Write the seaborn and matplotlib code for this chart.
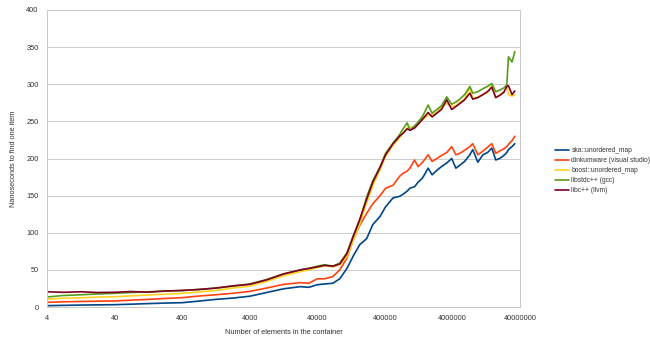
import matplotlib
matplotlib.use("Agg")
import matplotlib.pyplot as plt
import matplotlib.ticker as mticker
import seaborn as sns
import pandas as pd

elements = [4, 7, 13, 22, 40, 71, 126, 225, 400, 711, 1265, 2249, 4000, 7113,
            12649, 22494, 30000, 40000, 51500, 68000, 86000, 110000, 135000,
            170000, 215000, 265000, 340000, 410000, 530000, 660000, 745000,
            855000, 940000, 1100000, 1240000, 1450000, 1750000, 2000000,
            2350000, 2750000, 3300000, 3900000, 4500000, 5150000, 6050000,
            7250000, 8000000, 9500000, 11300000, 13200000, 15300000, 17500000,
            20000000, 23000000, 25500000, 27000000, 30500000, 33500000]

ska = [1.8, 2.2, 2.6, 2.9, 3.1, 3.8, 4.6, 5.3, 5.8, 8, 10.3, 12, 14.5, 19.5,
       24.5, 27.4, 26.5, 30, 31, 32, 38, 52, 68, 84, 92, 111, 122, 135, 147, 149,
       152, 156, 160, 162, 168, 174, 187, 178, 184, 189, 194, 200, 187, 191, 196,
       205, 212, 195, 205, 208, 214, 198, 200, 204, 208, 212, 216, 220]

dinkumware = [6.3, 7, 7.5, 7.8, 8.1, 9.2, 10.3, 11.5, 12.6, 14.8, 16.5, 18.5,
              21, 25.5, 30.5, 32.8, 32, 38, 38, 41, 50, 66, 90, 110, 126, 139,
              150, 160, 164, 176, 180, 183, 187, 198, 189, 195, 205, 196, 200,
              204, 208, 216, 205, 207, 211, 216, 220, 205, 210, 215, 220, 207,
              210, 213, 216, 219, 224, 230]

boost = [10.8, 11.7, 12.5, 13.2, 13.9, 15, 16.2, 17.3, 18.4, 20.2, 22.3, 25.5,
         28, 34.5, 42, 47.6, 50, 53, 56, 54, 57, 68, 89, 112, 140, 163, 185,
         203, 218, 228, 235, 241, 243, 241, 247, 253, 258, 259, 262, 270, 274,
         270, 271, 276, 280, 296, 280, 283, 286, 289, 298, 282, 285, 290, 298,
         286, 284, 286]

libstdcpp = [13.5, 15.5, 16.5, 17.5, 18.4, 19.5, 20.5, 21.5, 22, 23.8, 25.5,
             28, 31, 37, 44.5, 50, 52, 55, 57, 55, 59, 73, 95, 117, 148, 170,
             189, 207, 221, 232, 240, 248, 238, 244, 249, 257, 272, 261, 266,
             271, 283, 273, 276, 280, 286, 297, 288, 290, 294, 297, 301, 290,
             292, 295, 299, 337, 330, 344]

libcpp = [20.5, 19.8, 20.5, 19.5, 19.8, 20.8, 20, 21.5, 22.4, 23.5, 25.5, 28.5,
          30.5, 36.5, 44.5, 50, 52, 54, 56, 55, 58, 72, 94, 118, 145, 168, 188,
          205, 220, 230, 234, 240, 238, 241, 246, 253, 262, 256, 261, 266, 279,
          266, 270, 274, 279, 288, 280, 282, 286, 290, 296, 282, 285, 289, 297,
          298, 286, 291]

series_names = ["ska::unordered_map", "dinkumware (visual studio)",
                "boost::unordered_map", "libstdc++ (gcc)", "libc++ (llvm)"]
colors = ["#004586", "#ff420e", "#ffd320", "#579d1c", "#7e0021"]
tick_values = [4, 40, 400, 4000, 40000, 400000, 4000000, 40000000]
tick_labels = ["4", "40", "400", "4000", "40000", "400000", "4000000", "40000000"]

frames = []
for name, vals in zip(series_names, [ska, dinkumware, boost, libstdcpp, libcpp]):
    frames.append(pd.DataFrame({"elements": elements, "ns": vals, "series": name}))
df = pd.concat(frames, ignore_index=True)

sns.set_style("white")
plt.rcParams["font.family"] = ["Liberation Sans", "DejaVu Sans"]

fig = plt.figure(figsize=(6.5, 3.45), dpi=100)
ax = fig.add_axes([47 / 650, 1 - 307 / 345, (520 - 47) / 650, (307 - 10) / 345])

sns.lineplot(data=df, x="elements", y="ns", hue="series", hue_order=series_names,
             palette=colors, linewidth=1.2, ax=ax, legend=True, sort=False)

ax.set_xscale("log")
ax.set_xlim(4, 40000000)
ax.set_ylim(0, 400)
ax.xaxis.set_major_locator(mticker.FixedLocator(tick_values))
ax.xaxis.set_major_formatter(mticker.FixedFormatter(tick_labels))
ax.xaxis.set_minor_locator(mticker.NullLocator())
ax.set_yticks(range(0, 401, 50))
ax.yaxis.grid(True, color="#cccccc", linewidth=0.7)
ax.set_axisbelow(True)
for sp in ax.spines.values():
    sp.set_color("#c8c8c8")
    sp.set_linewidth(0.7)
ax.tick_params(axis="both", labelsize=5.3, colors="#333333", length=3,
               width=0.6, color="#c8c8c8", pad=3)
ax.set_xlabel("Number of elements in the container", fontsize=5.3,
              color="#333333", labelpad=5)
ax.set_ylabel("Nanoseconds to find one item", fontsize=5.3, color="#333333",
              labelpad=7)

handles, labels = ax.get_legend_handles_labels()
ax.get_legend().remove()
fig.legend(handles, labels, loc="center left", bbox_to_anchor=(554 / 650, 1 - 171 / 345),
           frameon=False, fontsize=4.8, handlelength=2.0, handletextpad=0.4,
           labelspacing=0.45, labelcolor="#333333", borderaxespad=0, borderpad=0.2)

fig.savefig("out.png", dpi=100)
